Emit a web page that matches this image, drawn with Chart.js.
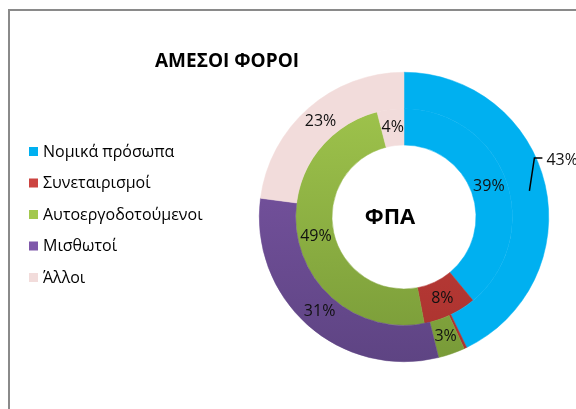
<!DOCTYPE html>
<html>
<head>
<meta charset="utf-8">
<script src="https://cdn.jsdelivr.net/npm/chart.js@4/dist/chart.umd.min.js"></script>
<style>
  html, body { margin: 0; padding: 0; background: #fff; overflow: hidden; }
  #wrap { position: relative; width: 576px; height: 409px; }
  #frame { position: absolute; left: 8px; top: 9px; width: 700px; height: 500px;
           border-left: 2px solid #8a8a8a; border-top: 2px solid #8a8a8a; }
  canvas { position: absolute; left: 0; top: 0; }
</style>
</head>
<body>
<div id="wrap">
  <div id="frame"></div>
  <canvas id="chart" width="576" height="409"></canvas>
</div>
<script>
// categories and values (percent)
const categories = ['Νομικά πρόσωπα', 'Συνεταιρισμοί', 'Αυτοεργοδοτούμενοι', 'Μισθωτοί', 'Άλλοι']
const outerValues = [43, 0.3, 3, 31, 23]   // ΑΜΕΣΟΙ ΦΟΡΟΙ
const innerValues = [39, 8, 49, 0, 4]      // ΦΠΑ
const titleText = 'ΑΜΕΣΟΙ ΦΟΡΟΙ'
const centerText = 'ΦΠΑ'

// top / bottom colour for each category (slight vertical gradient like the original)
const colorsTop = ['#00b0f0', '#cc4440', '#a3c84e', '#7f58aa', '#f2dcdb']
const colorsBottom = ['#00b0f0', '#a9322e', '#789a38', '#5e4483', '#f2dcdb']

function fill(ctx) {
    const i = ctx.dataIndex
    const area = ctx.chart.chartArea
    if (!area || colorsTop[i] === colorsBottom[i]) return colorsTop[i]
    const g = ctx.chart.ctx.createLinearGradient(0, area.top, 0, area.bottom)
    g.addColorStop(0, colorsTop[i])
    g.addColorStop(1, colorsBottom[i])
    return g
}

const FONT = '"Open Sans", "Liberation Sans", sans-serif'

const decorations = {
    id: 'decorations',
    afterDraw(chart) {
        const c = chart.ctx
        c.save()
        // title
        c.fillStyle = '#000'
        c.font = 'bold 19px ' + FONT
        c.textAlign = 'left'
        c.textBaseline = 'middle'
        c.fillText(titleText, 155, 62)

        // legend
        c.font = '16px ' + FONT
        categories.forEach((name, i) => {
            const y = 152 + i * 31.5
            c.fillStyle = colorsTop[i]
            c.fillRect(29, y - 5, 9, 9)
            c.fillStyle = '#000'
            c.fillText(name, 43, y)
        })

        // percentage labels
        c.font = '16px ' + FONT
        c.fillStyle = '#111'
        c.textAlign = 'center'
        chart.data.datasets.forEach((ds, d) => {
            const meta = chart.getDatasetMeta(d)
            meta.data.forEach((arc, i) => {
                const v = ds.data[i]
                if (v < 1) return
                const p = arc.getCenterPoint()
                const label = Math.round(v) + '%'
                if (d === 0 && i === 0) {
                    // outside label with leader line
                    c.strokeStyle = '#000'
                    c.lineWidth = 1.5
                    c.beginPath()
                    c.moveTo(p.x + 2, p.y + 2)
                    c.lineTo(p.x + 7, p.y - 31)
                    c.lineTo(p.x + 15, p.y - 31)
                    c.stroke()
                    c.textAlign = 'left'
                    c.fillText(label, p.x + 19, p.y - 28)
                    c.textAlign = 'center'
                } else {
                    c.fillText(label, p.x, p.y)
                }
            })
        })

        // centre text
        const m = chart.getDatasetMeta(1).data[0]
        c.font = 'bold 22px ' + FONT
        c.fillStyle = '#000'
        c.fillText(centerText, m.x - 14, m.y + 1)
        c.restore()
    }
}

new Chart(document.getElementById('chart'), {
    type: 'doughnut',
    data: {
        labels: categories,
        datasets: [
            { label: 'ΑΜΕΣΟΙ ΦΟΡΟΙ', data: outerValues, backgroundColor: fill, borderColor: fill, borderWidth: 0.5 },
            { label: 'ΦΠΑ', data: innerValues, backgroundColor: fill, borderColor: fill, borderWidth: 0.5 },
        ],
    },
    options: {
        responsive: false,
        animation: false,
        cutout: 72,
        layout: { padding: { left: 259, right: 27, top: 72, bottom: 47 } },
        plugins: {
            legend: { display: false },
            tooltip: { enabled: false },
        },
    },
    plugins: [decorations],
})
</script>
</body>
</html>
